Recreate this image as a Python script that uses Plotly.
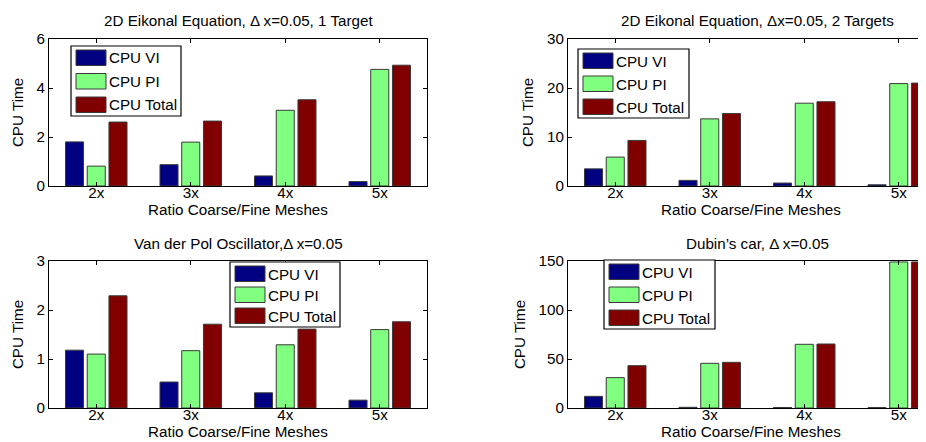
import plotly.graph_objects as go

categories = ["2x", "3x", "4x", "5x"]
series_names = ["CPU VI", "CPU PI", "CPU Total"]

eik1_vi = [1.80, 0.87, 0.41, 0.18]
eik1_pi = [0.81, 1.79, 3.09, 4.76]
eik1_tot = [2.61, 2.65, 3.52, 4.93]

eik2_vi = [3.5, 1.15, 0.6, 0.25]
eik2_pi = [5.9, 13.7, 16.9, 20.9]
eik2_tot = [9.3, 14.8, 17.2, 21.0]

vdp_vi = [1.18, 0.53, 0.31, 0.16]
vdp_pi = [1.10, 1.17, 1.29, 1.60]
vdp_tot = [2.29, 1.71, 1.61, 1.76]

dub_vi = [11.9, 0.7, 0.5, 0.4]
dub_pi = [31.0, 45.6, 65.0, 149.0]
dub_tot = [43.2, 46.6, 65.3, 149.0]

titles = ["2D Eikonal Equation, \u0394 x=0.05, 1 Target",
          "2D Eikonal Equation, \u0394x=0.05, 2 Targets",
          "Van der Pol Oscillator,\u0394 x=0.05",
          "Dubin\u2019s car, \u0394 x=0.05"]
y_ticks = [[0, 2, 4, 6], [0, 10, 20, 30], [0, 1, 2, 3], [0, 50, 100, 150]]
x_title = "Ratio Coarse/Fine Meshes"
y_title = "CPU Time"

colors = ["#000080", "#80FF80", "#800000"]
FONT = "Liberation Sans, Arial, Helvetica, sans-serif"
FS = 15.2

W, H = 926, 442
ML, MR, MT, MB = 41, 0, 31, 42
PW = W - ML - MR
PH = H - MT - MB

def px_x(p):
    return (p - ML) / PW

def px_y(p):
    return (H - MB - p) / PH

panels = [
    dict(data=[eik1_vi, eik1_pi, eik1_tot], x0=41, x1=419, y0=31, y1=178, full_x1=419,
         legend=(63, 38, 110, 70)),
    dict(data=[eik2_vi, eik2_pi, eik2_tot], x0=560, x1=926, y0=31, y1=178, full_x1=938,
         legend=(570, 41, 111, 69)),
    dict(data=[vdp_vi, vdp_pi, vdp_tot], x0=41, x1=419, y0=253, y1=400, full_x1=419,
         legend=(222, 254, 110, 65)),
    dict(data=[dub_vi, dub_pi, dub_tot], x0=560, x1=926, y0=253, y1=400, full_x1=938,
         legend=(596, 252, 111, 69)),
]

fig = go.Figure()
layout = dict(
    width=W, height=H,
    margin=dict(l=ML, r=MR, t=MT, b=MB, pad=0),
    paper_bgcolor="white", plot_bgcolor="white",
    font=dict(family=FONT, size=FS, color="black"),
    barmode="group", bargap=0.31, bargroupgap=0.17,
    showlegend=False,
    annotations=[], shapes=[],
)

for i, p in enumerate(panels):
    k = i + 1
    xa = "x" if k == 1 else f"x{k}"
    ya = "y" if k == 1 else f"y{k}"
    for j in range(3):
        fig.add_trace(go.Bar(
            x=categories, y=p["data"][j], name=series_names[j],
            marker=dict(color=colors[j], line=dict(color="#3a3a3a", width=1)),
            xaxis=xa, yaxis=ya, offsetgroup=str(j),
        ))
    full_w = p["full_x1"] - p["x0"]
    unit = full_w / 4.0
    vis_units = (p["x1"] - p["x0"]) / unit
    right_clip = p["full_x1"] > W
    xname = "xaxis" if k == 1 else f"xaxis{k}"
    yname = "yaxis" if k == 1 else f"yaxis{k}"
    layout[xname] = dict(
        domain=[px_x(p["x0"]), px_x(p["x1"])],
        anchor=ya, type="category",
        range=[-0.5, -0.5 + vis_units],
        showline=True, linecolor="black", linewidth=1, mirror="ticks",
        ticks="inside", ticklen=4, tickcolor="black",
        showgrid=False, zeroline=False,
        tickfont=dict(size=FS), ticklabelstandoff=-7,
        title=dict(text=x_title, standoff=0, font=dict(size=FS)),
    )
    layout[yname] = dict(
        domain=[px_y(p["y1"]), px_y(p["y0"])],
        anchor=xa,
        range=[0, y_ticks[i][-1]],
        tickvals=y_ticks[i],
        showline=True, linecolor="black", linewidth=1,
        mirror=False if right_clip else "ticks",
        ticks="inside", ticklen=4, tickcolor="black",
        showgrid=False, zeroline=False,
        tickfont=dict(size=FS),
        title=dict(text=y_title, standoff=9, font=dict(size=FS)),
    )
    # legend box (drawn in paper coordinates)
    lx, ly, lw, lh = p["legend"]
    layout["shapes"].append(dict(
        type="rect", xref="paper", yref="paper",
        x0=px_x(lx), x1=px_x(lx + lw), y0=px_y(ly + lh), y1=px_y(ly),
        fillcolor="white", line=dict(color="black", width=1.2), layer="above",
    ))
    step = (lh - 8 - 15) / 2.0
    for j in range(3):
        top = ly + 4 + j * step
        layout["shapes"].append(dict(
            type="rect", xref="paper", yref="paper",
            x0=px_x(lx + 5), x1=px_x(lx + 35), y0=px_y(top + 15.5), y1=px_y(top),
            fillcolor=colors[j], line=dict(color="#3a3a3a", width=1), layer="above",
        ))
        layout["annotations"].append(dict(
            text=series_names[j], xref="paper", yref="paper",
            x=px_x(lx + 36), y=px_y(top + 8), xanchor="left", yanchor="middle",
            showarrow=False, font=dict(size=FS),
        ))
    cx = (p["x0"] + p["full_x1"]) / 2.0
    ty = 12 if i < 2 else 235
    layout["annotations"].append(dict(
        text=titles[i], xref="paper", yref="paper",
        x=px_x(cx), y=px_y(ty), xanchor="center", yanchor="middle",
        showarrow=False, font=dict(size=FS),
    ))

fig.update_layout(**layout)
fig.write_html("out.html")
